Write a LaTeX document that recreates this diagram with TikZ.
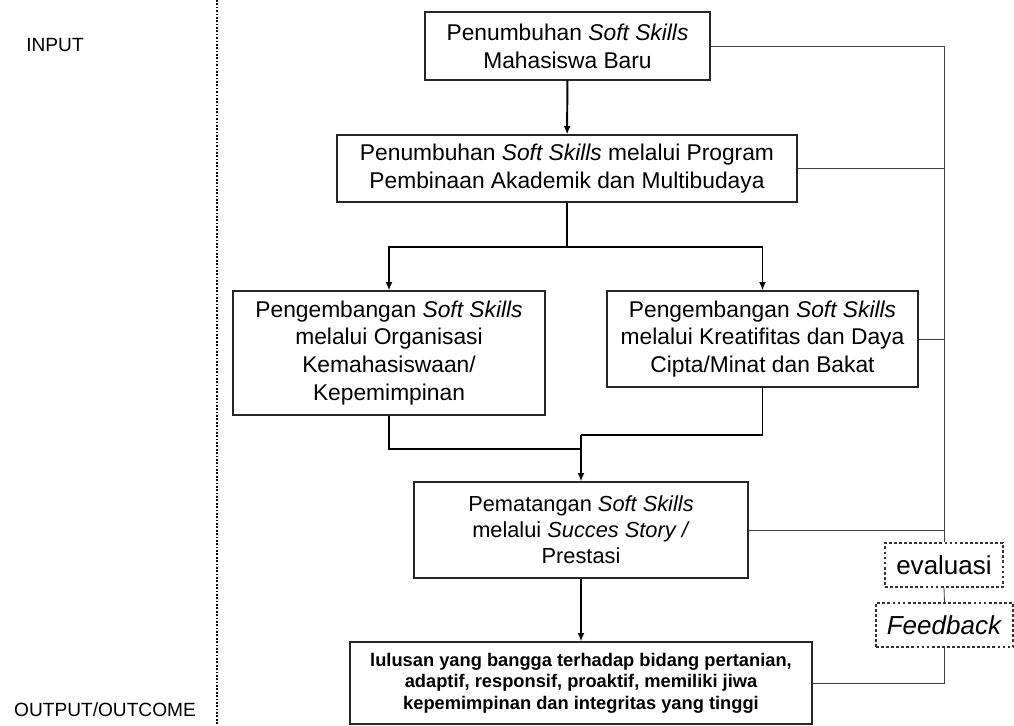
\documentclass[tikz,border=0pt]{standalone}
\usepackage{fontspec}
\setmainfont{Liberation Sans}
\usetikzlibrary{arrows.meta}

\newlength\pxu
\setlength\pxu{0.025cm}

\tikzset{
  stage/.style={draw=black!85, line width=0.8pt, fill=white, align=center, inner sep=2pt,
    font=\fontsize{16.2}{19.8}\selectfont},
  evalbox/.style={draw=black!80, line width=0.8pt, dash pattern=on 2pt off 1.6pt, fill=white,
    inner sep=2pt, minimum height=44\pxu, font=\fontsize{18.5}{22}\selectfont},
  flow/.style={line width=1.4pt, -{Latex[length=6pt,width=5pt]}},
  link/.style={line width=1.4pt},
  fb/.style={line width=0.6pt, draw=black!75},
  side/.style={font=\fontsize{13.6}{16}\selectfont}
}

\begin{document}
\begin{tikzpicture}[x=0.025cm, y=-0.025cm]
\useasboundingbox (0,0) rectangle (1014,725);

\draw[dash pattern=on 1.2pt off 1.2pt, line width=0.8pt] (217,0) -- (217,725);
\node[side] (input) at (55,45) {INPUT};
\node[side] (output) at (105,710) {OUTPUT/OUTCOME};

\node[stage, minimum width=285\pxu, minimum height=68\pxu] (baru) at (567.5,46)
  {Penumbuhan \textit{Soft Skills}\\Mahasiswa Baru};
\node[stage, minimum width=460\pxu, minimum height=67\pxu] (bina) at (567,168.5)
  {Penumbuhan \textit{Soft Skills} melalui Program\\Pembinaan Akademik dan Multibudaya};
\node[stage, minimum width=312\pxu, minimum height=124\pxu] (organisasi) at (389,353)
  {Pengembangan \textit{Soft Skills}\\melalui Organisasi\\Kemahasiswaan/\\Kepemimpinan};
\node[stage, minimum width=311\pxu, minimum height=96\pxu] (kreatif) at (762.5,339)
  {Pengembangan \textit{Soft Skills}\\melalui Kreatifitas dan Daya\\Cipta/Minat dan Bakat};
\node[stage, minimum width=334\pxu, minimum height=96\pxu, font=\fontsize{15.5}{18.5}\selectfont] (matang) at (581,530)
  {Pematangan \textit{Soft Skills}\\melalui \textit{Succes Story /}\\Prestasi};
\node[stage, minimum width=462\pxu, minimum height=82\pxu, font=\bfseries\fontsize{13}{15.2}\selectfont] (lulusan) at (581,683)
  {lulusan yang bangga terhadap bidang pertanian,\\adaptif, responsif, proaktif, memiliki jiwa\\kepemimpinan dan integritas yang tinggi};

\node[evalbox, minimum width=118\pxu] (evaluasi) at (944,565) {evaluasi};
\node[evalbox, minimum width=137\pxu] (feedback) at (944.5,625) {\textit{Feedback}};

% main flow
\coordinate (split) at (567,247);
\coordinate (joinL) at (581,449);
\coordinate (joinR) at (581,435);
\draw[flow] (baru) -- (bina);
\draw[link] (bina.south) -- (split);
\draw[flow] (split) -| (organisasi.north);
\draw[flow] (split) -| (kreatif.north);
\draw[link] (organisasi.south) |- (joinL);
\draw[link] (kreatif.south) |- (joinR);
\draw[flow] (joinR) -- (matang.north);
\draw[flow] (matang) -- (lulusan);

% evaluasi / feedback
\draw[fb] (baru.east) -| (evaluasi.north);
\draw[fb] (bina.east) -- (bina.east -| evaluasi.north);
\draw[fb] (kreatif.east) -- (kreatif.east -| evaluasi.north);
\draw[fb] (matang.east) -- (matang.east -| evaluasi.north);
\draw[fb] (evaluasi.south) -- (feedback.north);
\draw[fb] (feedback.south) |- (lulusan.east);

\end{tikzpicture}
\end{document}
